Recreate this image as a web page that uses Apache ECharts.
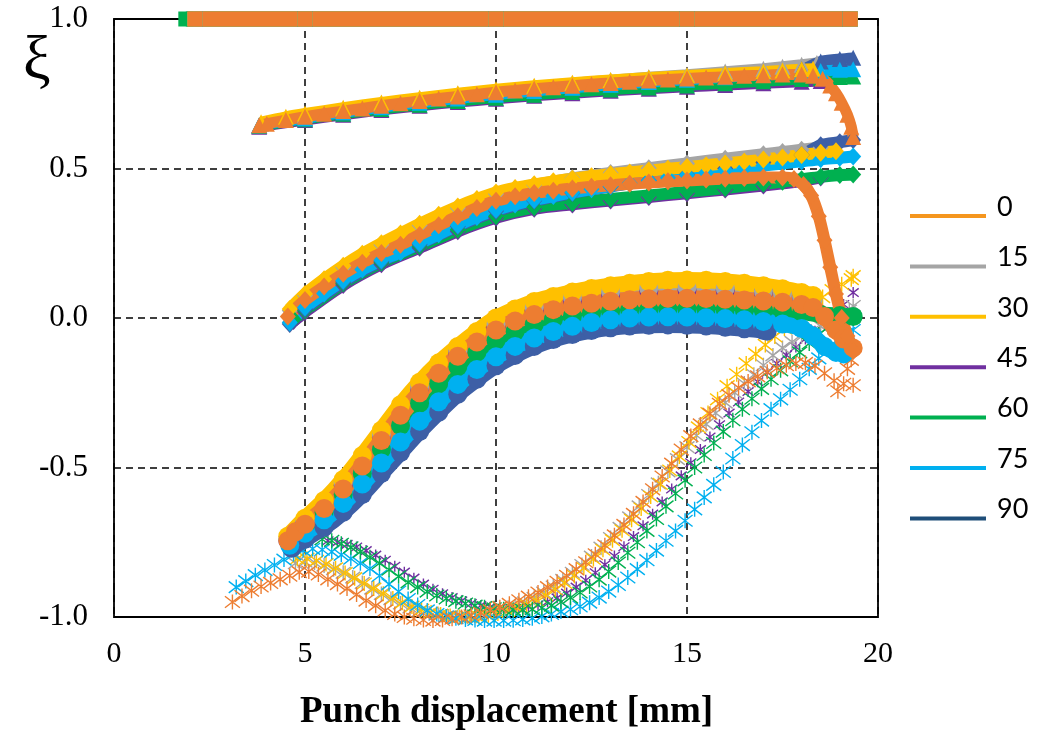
<!DOCTYPE html>
<html><head><meta charset="utf-8">
<script src="https://cdn.jsdelivr.net/npm/echarts@6/dist/echarts.min.js"></script>
<style>html,body{margin:0;padding:0;background:#fff}#c{width:1051px;height:732px}</style>
</head><body><div id="c"></div>
<script>
// ---- categories / tick labels ----
const angles = ['0','15','30','45','60','75','90'];
const xTicks = [0,5,10,15,20];
const yTicks = [-1.0,-0.5,0.0,0.5,1.0];

// ---- xi = 1.0 (square markers) ----
const sq_0  = [[2.12,1],[5,1],[10,1],[15,1],[19.27,1]];
const sq_15 = [[2.12,1],[5,1],[10,1],[15,1],[19.27,1]];
const sq_30 = [[2.12,1],[5,1],[10,1],[15,1],[19.27,1]];
const sq_45 = [[2.12,1],[5,1],[10,1],[15,1],[19.27,1]];
const sq_60 = [[1.88,1],[5,1],[10,1],[15,1],[19.27,1]];
const sq_75 = [[2.12,1],[5,1],[10,1],[15,1],[19.27,1]];
const sq_90 = [[2.12,1],[5,1],[10,1],[15,1],[19.27,1]];

// ---- triangle markers ----
const tri_0 = [[3.8,0.645],[4.0,0.65],[4.5,0.662],[5.0,0.673],[5.5,0.683],[6.0,0.692],[6.5,0.701],[7.0,0.71],[7.5,0.718],[8.0,0.726],[8.5,0.734],[9.0,0.741],[9.5,0.748],[10.0,0.755],[10.5,0.761],[11.0,0.767],[11.5,0.772],[12.0,0.777],[12.5,0.782],[13.0,0.786],[13.5,0.79],[14.0,0.794],[14.5,0.798],[15.0,0.801],[15.5,0.804],[16.0,0.807],[16.5,0.81],[17.0,0.812],[17.5,0.814],[18.0,0.814],[18.3,0.81],[18.55,0.8],[18.75,0.778],[18.9,0.752],[19.05,0.72],[19.2,0.68],[19.3,0.64],[19.35,0.605]];
const tri_15 = [[3.85,0.65],[5.0,0.68],[6.0,0.7],[7.0,0.718],[8.0,0.734],[9.0,0.749],[10.0,0.762],[11.0,0.774],[12.0,0.785],[13.0,0.795],[14.0,0.805],[15.0,0.814],[16.0,0.824],[17.0,0.834],[17.5,0.84],[18.0,0.847],[18.4,0.853]];
const tri_30 = [[3.85,0.655],[4.5,0.673],[5.0,0.684],[6.0,0.703],[7.0,0.721],[8.0,0.737],[9.0,0.752],[10.0,0.765],[11.0,0.777],[12.0,0.787],[13.0,0.796],[14.0,0.804],[15.0,0.811],[16.0,0.818],[17.0,0.824],[17.5,0.828],[18.0,0.832],[18.3,0.834]];
const tri_45 = [[3.8,0.64],[5.0,0.662],[6.0,0.68],[7.0,0.696],[8.0,0.71],[9.0,0.722],[10.0,0.733],[11.0,0.743],[12.0,0.752],[13.0,0.76],[14.0,0.767],[15.0,0.773],[16.0,0.779],[17.0,0.785],[18.0,0.79],[18.5,0.793]];
const tri_60 = [[3.8,0.642],[5.0,0.665],[6.0,0.683],[7.0,0.699],[8.0,0.713],[9.0,0.726],[10.0,0.737],[11.0,0.747],[12.0,0.756],[13.0,0.764],[14.0,0.771],[15.0,0.778],[16.0,0.785],[17.0,0.792],[18.0,0.799],[18.5,0.803],[19.0,0.806],[19.35,0.808]];
const tri_75 = [[3.8,0.645],[5.0,0.668],[6.0,0.688],[7.0,0.705],[8.0,0.72],[9.0,0.734],[10.0,0.747],[11.0,0.759],[12.0,0.77],[13.0,0.78],[14.0,0.789],[15.0,0.797],[16.0,0.805],[17.0,0.813],[18.0,0.821],[18.5,0.826],[19.0,0.83],[19.35,0.832]];
const tri_90 = [[3.8,0.645],[5.0,0.668],[6.0,0.688],[7.0,0.706],[8.0,0.722],[9.0,0.736],[10.0,0.749],[11.0,0.761],[12.0,0.772],[13.0,0.782],[14.0,0.792],[15.0,0.801],[16.0,0.81],[17.0,0.82],[18.0,0.832],[18.5,0.858],[19.0,0.866],[19.35,0.87]];

// ---- diamond markers ----
const dia_0 = [[4.55,0.005],[5.0,0.06],[5.5,0.105],[6.0,0.148],[6.5,0.185],[7.0,0.217],[7.5,0.245],[8.0,0.278],[8.5,0.31],[9.0,0.34],[9.5,0.368],[10.0,0.392],[10.5,0.407],[11.0,0.418],[11.5,0.426],[12.0,0.433],[12.5,0.439],[13.0,0.444],[13.5,0.449],[14.0,0.453],[14.5,0.457],[15.0,0.46],[15.5,0.463],[16.0,0.466],[16.5,0.468],[17.0,0.47],[17.5,0.47],[17.8,0.465],[18.05,0.445],[18.25,0.41],[18.45,0.34],[18.6,0.26],[18.75,0.17],[18.9,0.08],[19.05,0.0],[19.2,-0.06],[19.35,-0.11]];
const dia_15 = [[4.6,0.025],[5.0,0.075],[6.0,0.17],[7.0,0.245],[8.0,0.31],[9.0,0.368],[10.0,0.415],[11.0,0.445],[12.0,0.467],[13.0,0.485],[14.0,0.501],[15.0,0.517],[16.0,0.533],[17.0,0.548],[17.5,0.555],[18.0,0.563],[18.5,0.57]];
const dia_30 = [[4.6,0.03],[5.0,0.08],[5.5,0.13],[6.0,0.175],[6.5,0.215],[7.0,0.25],[7.5,0.283],[8.0,0.315],[8.5,0.345],[9.0,0.373],[9.5,0.398],[10.0,0.42],[10.5,0.435],[11.0,0.447],[11.5,0.457],[12.0,0.466],[12.5,0.474],[13.0,0.481],[13.5,0.487],[14.0,0.493],[14.5,0.499],[15.0,0.505],[15.5,0.511],[16.0,0.517],[16.5,0.523],[17.0,0.53],[17.5,0.537],[18.0,0.545],[18.5,0.553],[18.9,0.558]];
const dia_45 = [[4.7,-0.01],[5.0,0.02],[6.0,0.11],[7.0,0.18],[8.0,0.235],[9.0,0.29],[10.0,0.335],[11.0,0.365],[12.0,0.38],[13.0,0.393],[14.0,0.405],[15.0,0.417],[16.0,0.43],[17.0,0.443],[18.0,0.458],[18.5,0.47]];
const dia_60 = [[4.7,-0.005],[5.0,0.025],[6.0,0.115],[7.0,0.185],[8.0,0.24],[9.0,0.295],[10.0,0.34],[11.0,0.37],[12.0,0.385],[13.0,0.398],[14.0,0.41],[15.0,0.422],[16.0,0.435],[17.0,0.449],[17.5,0.456],[18.0,0.464],[18.5,0.472],[19.0,0.478],[19.35,0.48]];
const dia_75 = [[4.6,-0.015],[5.0,0.035],[5.5,0.082],[6.0,0.125],[6.5,0.162],[7.0,0.193],[7.5,0.22],[8.0,0.25],[8.5,0.28],[9.0,0.31],[9.5,0.338],[10.0,0.362],[10.5,0.38],[11.0,0.395],[11.5,0.408],[12.0,0.42],[12.5,0.431],[13.0,0.441],[13.5,0.451],[14.0,0.46],[14.5,0.469],[15.0,0.478],[15.5,0.486],[16.0,0.494],[16.5,0.502],[17.0,0.51],[17.5,0.517],[18.0,0.524],[18.5,0.531],[19.0,0.536],[19.35,0.54]];
const dia_90 = [[4.6,-0.02],[5.0,0.03],[6.0,0.12],[7.0,0.19],[8.0,0.247],[9.0,0.307],[10.0,0.358],[11.0,0.392],[12.0,0.418],[13.0,0.44],[14.0,0.46],[15.0,0.48],[16.0,0.5],[17.0,0.52],[18.0,0.545],[18.5,0.578],[19.0,0.588],[19.35,0.595]];

// ---- circle markers ----
const cir_0 = [[4.55,-0.745],[4.75,-0.715],[5.0,-0.69],[5.5,-0.637],[6.0,-0.572],[6.5,-0.495],[7.0,-0.41],[7.5,-0.325],[8.0,-0.25],[8.5,-0.185],[9.0,-0.128],[9.5,-0.08],[10.0,-0.04],[10.5,-0.01],[11.0,0.012],[11.5,0.028],[12.0,0.04],[12.5,0.049],[13.0,0.056],[13.5,0.061],[14.0,0.064],[14.5,0.066],[15.0,0.066],[15.5,0.065],[16.0,0.063],[16.5,0.06],[17.0,0.057],[17.5,0.053],[18.0,0.045],[18.3,0.035],[18.6,0.005],[18.9,-0.04],[19.1,-0.07],[19.35,-0.1]];
const cir_15 = [[4.55,-0.74],[5.0,-0.68],[6.0,-0.55],[7.0,-0.39],[8.0,-0.23],[9.0,-0.11],[10.0,-0.02],[11.0,0.035],[12.0,0.068],[13.0,0.088],[14.0,0.1],[15.0,0.104],[16.0,0.1],[17.0,0.09],[17.5,0.082],[18.0,0.07],[18.3,0.06]];
const cir_30 = [[4.55,-0.73],[5.0,-0.67],[5.5,-0.61],[6.0,-0.54],[6.5,-0.46],[7.0,-0.375],[7.5,-0.29],[8.0,-0.215],[8.5,-0.15],[9.0,-0.095],[9.5,-0.045],[10.0,0.0],[10.5,0.03],[11.0,0.055],[11.5,0.072],[12.0,0.087],[12.5,0.099],[13.0,0.108],[13.5,0.116],[14.0,0.122],[14.5,0.126],[15.0,0.127],[15.5,0.126],[16.0,0.122],[16.5,0.116],[17.0,0.108],[17.5,0.098],[18.0,0.085],[18.3,0.075]];
const cir_45 = [[4.55,-0.745],[5.0,-0.685],[6.0,-0.56],[7.0,-0.4],[8.0,-0.24],[9.0,-0.118],[10.0,-0.03],[11.0,0.025],[12.0,0.058],[13.0,0.078],[14.0,0.09],[15.0,0.094],[16.0,0.092],[17.0,0.085],[18.0,0.07]];
const cir_60 = [[4.6,-0.75],[5.0,-0.7],[5.5,-0.65],[6.0,-0.59],[6.5,-0.52],[7.0,-0.44],[7.5,-0.36],[8.0,-0.285],[8.5,-0.22],[9.0,-0.163],[9.5,-0.115],[10.0,-0.075],[10.5,-0.045],[11.0,-0.022],[11.5,-0.005],[12.0,0.007],[12.5,0.016],[13.0,0.022],[13.5,0.026],[14.0,0.028],[14.5,0.029],[15.0,0.029],[15.5,0.029],[16.0,0.028],[16.5,0.027],[17.0,0.026],[17.5,0.024],[18.0,0.02],[18.5,0.012],[19.0,0.008],[19.35,0.005]];
const cir_75 = [[4.6,-0.76],[5.0,-0.72],[5.5,-0.675],[6.0,-0.62],[6.5,-0.555],[7.0,-0.485],[7.5,-0.415],[8.0,-0.345],[8.5,-0.28],[9.0,-0.222],[9.5,-0.172],[10.0,-0.13],[10.5,-0.095],[11.0,-0.067],[11.5,-0.045],[12.0,-0.028],[12.5,-0.015],[13.0,-0.006],[13.5,0.0],[14.0,0.003],[14.5,0.004],[15.0,0.003],[15.5,0.001],[16.0,-0.002],[16.5,-0.006],[17.0,-0.012],[17.5,-0.02],[18.0,-0.035],[18.3,-0.06],[18.6,-0.095],[18.9,-0.115],[19.1,-0.12]];
const cir_90 = [[4.65,-0.77],[5.0,-0.74],[5.5,-0.7],[6.0,-0.65],[6.5,-0.59],[7.0,-0.52],[7.5,-0.45],[8.0,-0.38],[8.5,-0.315],[9.0,-0.255],[9.5,-0.205],[10.0,-0.16],[10.5,-0.125],[11.0,-0.095],[11.5,-0.072],[12.0,-0.055],[12.5,-0.042],[13.0,-0.033],[13.5,-0.027],[14.0,-0.024],[14.5,-0.023],[15.0,-0.024],[15.5,-0.027],[16.0,-0.031],[16.5,-0.036],[17.0,-0.042],[17.1,-0.044]];

// ---- star (cross) markers ----
const crs_0 = [[3.1,-0.95],[3.35,-0.93],[3.6,-0.912],[3.85,-0.898],[4.1,-0.886],[4.35,-0.874],[4.6,-0.862],[4.85,-0.85],[5.1,-0.848],[5.35,-0.858],[5.6,-0.874],[5.85,-0.89],[6.1,-0.905],[6.35,-0.925],[6.6,-0.945],[6.85,-0.962],[7.1,-0.978],[7.35,-0.99],[7.6,-1.0],[7.85,-1.006],[8.1,-1.01],[8.35,-1.012],[8.6,-1.01],[8.85,-1.006],[9.1,-1.0],[9.35,-0.994],[9.6,-0.986],[9.85,-0.977],[10.1,-0.967],[10.35,-0.956],[10.6,-0.944],[10.85,-0.932],[11.1,-0.918],[11.35,-0.9],[11.6,-0.882],[11.85,-0.862],[12.1,-0.84],[12.35,-0.817],[12.6,-0.79],[12.85,-0.76],[13.1,-0.727],[13.35,-0.692],[13.6,-0.655],[13.85,-0.615],[14.1,-0.573],[14.35,-0.53],[14.6,-0.487],[14.85,-0.44],[15.1,-0.395],[15.35,-0.356],[15.6,-0.32],[15.85,-0.287],[16.1,-0.258],[16.35,-0.233],[16.6,-0.212],[16.85,-0.195],[17.1,-0.18],[17.35,-0.168],[17.6,-0.158],[17.85,-0.152],[18.1,-0.15],[18.35,-0.16],[18.6,-0.185],[18.85,-0.21],[19.1,-0.22],[19.35,-0.225],[19.2,-0.17],[19.3,-0.14],[18.95,-0.245]];
const crs_15 = [[4.75,-0.82],[5.0,-0.815],[5.25,-0.818],[5.5,-0.828],[5.75,-0.84],[6.0,-0.852],[6.25,-0.868],[6.5,-0.886],[6.75,-0.905],[7.0,-0.923],[7.25,-0.94],[7.5,-0.955],[7.75,-0.968],[8.0,-0.979],[8.25,-0.988],[8.5,-0.994],[8.75,-0.998],[9.0,-1.0],[9.25,-0.999],[9.5,-0.996],[9.75,-0.991],[10.0,-0.984],[10.25,-0.975],[10.5,-0.964],[10.75,-0.951],[11.0,-0.936],[11.25,-0.918],[11.5,-0.898],[11.75,-0.876],[12.0,-0.852],[12.25,-0.826],[12.5,-0.798],[12.75,-0.768],[13.0,-0.736],[13.25,-0.702],[13.5,-0.667],[13.75,-0.63],[14.0,-0.592],[14.25,-0.553],[14.5,-0.513],[14.75,-0.472],[15.0,-0.432],[15.25,-0.393],[15.5,-0.355],[15.75,-0.318],[16.0,-0.283],[16.25,-0.25],[16.5,-0.219],[16.75,-0.19],[17.0,-0.158],[17.25,-0.125],[17.5,-0.1],[17.75,-0.08],[18.0,-0.062],[18.25,-0.045],[18.5,-0.028],[18.75,-0.012],[19.0,0.005],[19.25,0.025],[19.35,0.04]];
const crs_30 = [[4.8,-0.805],[5.05,-0.805],[5.3,-0.812],[5.55,-0.823],[5.8,-0.837],[6.05,-0.853],[6.3,-0.87],[6.55,-0.888],[6.8,-0.905],[7.05,-0.922],[7.3,-0.938],[7.55,-0.952],[7.8,-0.965],[8.05,-0.976],[8.3,-0.985],[8.55,-0.992],[8.8,-0.997],[9.05,-1.0],[9.3,-1.0],[9.55,-0.998],[9.8,-0.994],[10.05,-0.988],[10.3,-0.98],[10.55,-0.97],[10.8,-0.958],[11.05,-0.944],[11.3,-0.927],[11.55,-0.908],[11.8,-0.886],[12.05,-0.862],[12.3,-0.836],[12.55,-0.806],[12.8,-0.775],[13.05,-0.743],[13.3,-0.71],[13.55,-0.675],[13.8,-0.637],[14.05,-0.597],[14.3,-0.555],[14.55,-0.51],[14.8,-0.463],[15.05,-0.415],[15.3,-0.366],[15.55,-0.318],[15.8,-0.272],[16.05,-0.228],[16.3,-0.188],[16.55,-0.152],[16.8,-0.12],[17.05,-0.09],[17.3,-0.062],[17.55,-0.035],[17.8,-0.008],[18.05,0.018],[18.3,0.045],[18.55,0.07],[18.8,0.093],[19.05,0.113],[19.3,0.13],[19.35,0.14]];
const crs_45 = [[5.6,-0.745],[5.85,-0.75],[6.1,-0.757],[6.35,-0.766],[6.6,-0.778],[6.85,-0.793],[7.1,-0.81],[7.35,-0.83],[7.6,-0.85],[7.85,-0.87],[8.1,-0.89],[8.35,-0.907],[8.6,-0.922],[8.85,-0.935],[9.1,-0.946],[9.35,-0.955],[9.6,-0.962],[9.85,-0.967],[10.1,-0.97],[10.35,-0.971],[10.6,-0.97],[10.85,-0.966],[11.1,-0.959],[11.35,-0.949],[11.6,-0.936],[11.85,-0.92],[12.1,-0.9],[12.35,-0.877],[12.6,-0.852],[12.85,-0.825],[13.1,-0.796],[13.35,-0.765],[13.6,-0.731],[13.85,-0.695],[14.1,-0.656],[14.35,-0.615],[14.6,-0.572],[14.85,-0.528],[15.1,-0.484],[15.35,-0.44],[15.6,-0.398],[15.85,-0.357],[16.1,-0.318],[16.35,-0.281],[16.6,-0.246],[16.85,-0.213],[17.1,-0.182],[17.35,-0.152],[17.6,-0.124],[17.85,-0.097],[18.1,-0.07],[18.35,-0.044],[18.6,-0.018],[18.85,0.01],[19.1,0.045],[19.35,0.085]];
const crs_60 = [[5.45,-0.74],[5.7,-0.745],[5.95,-0.755],[6.2,-0.767],[6.45,-0.782],[6.7,-0.8],[6.95,-0.82],[7.2,-0.842],[7.45,-0.864],[7.7,-0.884],[7.95,-0.9],[8.2,-0.915],[8.45,-0.928],[8.7,-0.938],[8.95,-0.947],[9.2,-0.955],[9.45,-0.962],[9.7,-0.967],[9.95,-0.971],[10.2,-0.974],[10.45,-0.976],[10.7,-0.976],[10.95,-0.974],[11.2,-0.97],[11.45,-0.962],[11.7,-0.95],[11.95,-0.935],[12.2,-0.918],[12.45,-0.898],[12.7,-0.875],[12.95,-0.848],[13.2,-0.818],[13.45,-0.785],[13.7,-0.75],[13.95,-0.712],[14.2,-0.672],[14.45,-0.63],[14.7,-0.587],[14.95,-0.543],[15.2,-0.5],[15.45,-0.458],[15.7,-0.418],[15.95,-0.38],[16.2,-0.342],[16.45,-0.305],[16.7,-0.27],[16.95,-0.237],[17.2,-0.205],[17.45,-0.175],[17.7,-0.145],[17.95,-0.115],[18.2,-0.085],[18.45,-0.055],[18.7,-0.03],[18.95,-0.012],[19.2,0.0],[19.35,0.005]];
const crs_75 = [[3.2,-0.9],[3.45,-0.88],[3.7,-0.86],[3.95,-0.843],[4.2,-0.826],[4.45,-0.808],[4.7,-0.79],[4.95,-0.777],[5.2,-0.772],[5.45,-0.775],[5.7,-0.782],[5.95,-0.792],[6.2,-0.805],[6.45,-0.82],[6.7,-0.838],[6.95,-0.862],[7.2,-0.89],[7.45,-0.915],[7.7,-0.94],[7.95,-0.96],[8.2,-0.978],[8.45,-0.99],[8.7,-0.998],[8.95,-1.004],[9.2,-1.008],[9.45,-1.01],[9.7,-1.012],[9.95,-1.012],[10.2,-1.012],[10.45,-1.011],[10.7,-1.008],[10.95,-1.004],[11.2,-0.998],[11.45,-0.99],[11.7,-0.982],[11.95,-0.974],[12.2,-0.965],[12.45,-0.952],[12.7,-0.935],[12.95,-0.915],[13.2,-0.893],[13.45,-0.868],[13.7,-0.84],[13.95,-0.81],[14.2,-0.778],[14.45,-0.745],[14.7,-0.712],[14.95,-0.678],[15.2,-0.64],[15.45,-0.6],[15.7,-0.558],[15.95,-0.515],[16.2,-0.47],[16.45,-0.425],[16.7,-0.382],[16.95,-0.343],[17.2,-0.305],[17.45,-0.272],[17.7,-0.24],[17.95,-0.205],[18.2,-0.17],[18.45,-0.135],[18.7,-0.1],[18.95,-0.072],[19.2,-0.05],[19.35,-0.04]];

// ---- colours ----
const seriesColors = ['#ED7D31','#A5A5A5','#FFC000','#7030A0','#00B050','#00B0F0','#3D5FA6'];
const legendColors = ['#F5961E','#A5A5A5','#FFC000','#7030A0','#00B050','#00B0F0','#1F4E79'];

const SQ  = {'0':sq_0,'15':sq_15,'30':sq_30,'45':sq_45,'60':sq_60,'75':sq_75,'90':sq_90};
const TRI = {'0':tri_0,'15':tri_15,'30':tri_30,'45':tri_45,'60':tri_60,'75':tri_75,'90':tri_90};
const DIA = {'0':dia_0,'15':dia_15,'30':dia_30,'45':dia_45,'60':dia_60,'75':dia_75,'90':dia_90};
const CIR = {'0':cir_0,'15':cir_15,'30':cir_30,'45':cir_45,'60':cir_60,'75':cir_75,'90':cir_90};
const CRS = {'0':crs_0,'15':crs_15,'30':crs_30,'45':crs_45,'60':crs_60,'75':crs_75};

const drawOrder = ['45','15','60','90','75','30','0'];
const starOrder = ['45','15','30','75','60','0'];
const colorOf = a => seriesColors[angles.indexOf(a)];
const STAR = 'path://M0,0L10,10M10,0L0,10M5,-1.5L5,11.5';

function band(name, data, symbol, size, lw) {
  const c = colorOf(name);
  return {
    type: 'line', name, data, symbol, symbolSize: size, showSymbol: true, smooth: 0.3,
    clip: false, animation: false, silent: true,
    lineStyle: { color: c, width: lw, cap: 'butt' },
    itemStyle: { color: c, borderWidth: 0 },
    emphasis: { disabled: true }
  };
}
function stars(name, data) {
  const c = colorOf(name);
  return {
    type: 'scatter', name, data, symbol: STAR, symbolSize: name === '45' ? 11 : 15,
    clip: false, animation: false, silent: true,
    itemStyle: { color: c, borderColor: c, borderWidth: 1.4, opacity: 1 },
    emphasis: { disabled: true }
  };
}

const series = [];
starOrder.forEach(a => series.push(stars(a, CRS[a])));
drawOrder.forEach(a => series.push(band(a, CIR[a], 'circle', 19, 16)));
drawOrder.forEach(a => series.push(band(a, DIA[a], 'diamond', [16, 18], 12)));
drawOrder.forEach(a => series.push(band(a, TRI[a], 'triangle', 16, 11)));
drawOrder.forEach(a => series.push(band(a, SQ[a], 'rect', 15, 15)));

const serif = 'Liberation Serif';
const chart = echarts.init(document.getElementById('c'), null, { renderer: 'canvas' });
chart.setOption({
  animation: false,
  backgroundColor: '#fff',
  grid: { left: 114, top: 19, width: 764, height: 598, show: true, borderColor: '#000', borderWidth: 1.8, backgroundColor: 'transparent' },
  xAxis: {
    type: 'value', min: xTicks[0], max: xTicks[xTicks.length - 1], interval: 5,
    axisLine: { show: false }, axisTick: { show: false },
    axisLabel: { fontFamily: serif, fontSize: 30, color: '#000', margin: 22 },
    splitLine: { show: true, lineStyle: { color: '#000', width: 1.5, type: [7, 5] } }
  },
  yAxis: {
    type: 'value', min: yTicks[0], max: yTicks[yTicks.length - 1], interval: 0.5,
    axisLine: { show: false }, axisTick: { show: false },
    axisLabel: { fontFamily: serif, fontSize: 31, color: '#000', margin: 26, formatter: v => v.toFixed(1) },
    splitLine: { show: true, lineStyle: { color: '#000', width: 1.5, type: [7, 5] } }
  },
  legend: {
    orient: 'vertical', left: 910, top: 192, padding: 0, itemGap: 20.4,
    icon: 'path://M0,0M0,18L76,18L76,22L0,22Z', itemWidth: 76, itemHeight: 22, selectedMode: false,
    textStyle: { fontFamily: 'Lato', fontSize: 27, color: '#000', lineHeight: 30, padding: [0, 0, 0, 6] },
    data: angles.map((a, i) => ({ name: a, itemStyle: { color: legendColors[i], borderWidth: 0 } }))
  },
  graphic: [
    { type: 'text', left: 23, top: 31, style: { text: 'ξ', font: '62px "Liberation Serif"', fill: '#000' } },
    { type: 'text', left: 300, top: 694, style: { text: 'Punch displacement [mm]', font: 'bold 37px "Liberation Serif"', fill: '#000' } }
  ],
  series
});
</script>
</body></html>
